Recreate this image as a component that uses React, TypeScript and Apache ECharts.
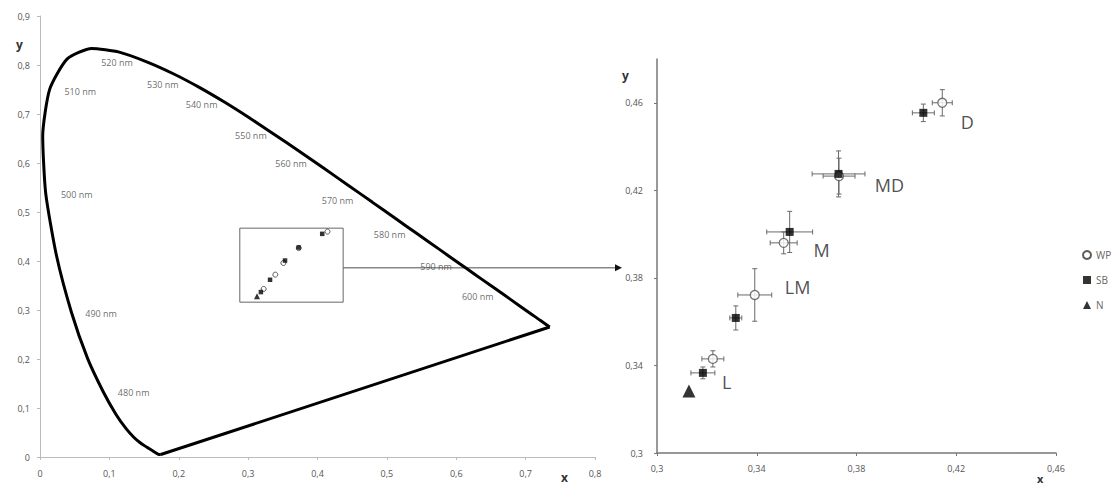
import React, { useEffect, useRef } from "react";
import * as echarts from "echarts";

// CIE 1931 spectral locus (380..700 nm)
const locusX = [0.1741, 0.1733, 0.1714, 0.1689, 0.1644, 0.1611, 0.1566, 0.151, 0.144, 0.1355, 0.1241, 0.1096, 0.0913, 0.0687, 0.0454, 0.0235, 0.0082, 0.0039, 0.0139, 0.0389, 0.0743, 0.1142, 0.1547, 0.1929, 0.2296, 0.2658, 0.3016, 0.3373, 0.3731, 0.4087, 0.4441, 0.4788, 0.5125, 0.5448, 0.5752, 0.6029, 0.627, 0.6482, 0.6658, 0.6915, 0.7079, 0.719, 0.726, 0.73, 0.7334, 0.7347];
const locusY = [0.005, 0.0048, 0.0051, 0.0069, 0.0109, 0.0138, 0.0177, 0.0227, 0.0297, 0.0399, 0.0578, 0.0868, 0.1327, 0.2007, 0.295, 0.4127, 0.5384, 0.6548, 0.7502, 0.812, 0.8338, 0.8262, 0.8059, 0.7816, 0.7543, 0.7243, 0.6923, 0.6589, 0.6245, 0.5896, 0.5547, 0.5202, 0.4866, 0.4544, 0.4242, 0.3965, 0.3725, 0.3514, 0.334, 0.3083, 0.292, 0.2809, 0.274, 0.27, 0.2666, 0.2653];
// purple line: from 700 nm back to 380 nm
const purpleX = [0.7347, 0.1741];
const purpleY = [0.2653, 0.005];

const waveLabels = ["520 nm", "530 nm", "540 nm", "550 nm", "560 nm", "570 nm", "580 nm", "590 nm", "600 nm", "510 nm", "500 nm", "490 nm", "480 nm"];
const waveLabelX = [0.111, 0.177, 0.233, 0.304, 0.362, 0.429, 0.504, 0.571, 0.631, 0.058, 0.053, 0.088, 0.135];
const waveLabelY = [0.806, 0.761, 0.72, 0.657, 0.6, 0.524, 0.455, 0.388, 0.327, 0.745, 0.535, 0.292, 0.131];

const groups = ["D", "MD", "M", "LM", "L"];
const wpX = [0.4144, 0.373, 0.3508, 0.3392, 0.3224];
const wpY = [0.46, 0.4265, 0.396, 0.3722, 0.343];
const wpXErr = [0.004, 0.0064, 0.0054, 0.0068, 0.0044];
const wpYErr = [0.006, 0.0082, 0.005, 0.012, 0.0037];
const sbX = [0.4068, 0.3728, 0.3532, 0.3316, 0.3184];
const sbY = [0.4554, 0.4275, 0.401, 0.3617, 0.3366];
const sbXErr = [0.0044, 0.0106, 0.0092, 0.0024, 0.0048];
const sbYErr = [0.004, 0.0105, 0.0094, 0.0055, 0.0027];
const nX = [0.3128];
const nY = [0.3283];
const groupLabelX = [0.4244, 0.3932, 0.366, 0.3564, 0.328];
const groupLabelY = [0.4513, 0.4225, 0.3928, 0.3759, 0.3325];

const rightTicks = [0.3, 0.34, 0.38, 0.42, 0.46];
const insetX = [0.288, 0.437];
const insetY = [0.316, 0.467];
const arrowYValue = 0.386;

const fmt = (v: number) => String(+Number(v).toFixed(2)).replace(".", ",");
const FONT = "'Open Sans', 'Liberation Sans', sans-serif";

export default function App() {
  const ref = useRef<HTMLDivElement>(null);
  useEffect(() => {
    if (!ref.current) return;
    const chart = echarts.init(ref.current, undefined, { renderer: "svg" });

    const axisCommon = (color: string, width: number) => ({
      splitLine: { show: false },
      axisLine: { show: true, lineStyle: { color, width } },
      axisTick: { show: true, length: 3, lineStyle: { color } },
      axisLabel: { color: "#555", fontSize: 9, fontFamily: FONT, formatter: fmt },
    });

    const errData = (xs: number[], ys: number[], exs: number[], eys: number[]) =>
      xs.map((x, i) => [x, ys[i], exs[i], eys[i]]);

    const renderErr = (params: any, api: any) => {
      const x = api.value(0), y = api.value(1), ex = api.value(2), ey = api.value(3);
      const l = api.coord([x - ex, y]);
      const r = api.coord([x + ex, y]);
      const t = api.coord([x, y + ey]);
      const b = api.coord([x, y - ey]);
      const c = 2.5;
      const style = { stroke: "#6a6a6a", lineWidth: 1 };
      return {
        type: "group",
        children: [
          { type: "line", shape: { x1: l[0], y1: l[1], x2: r[0], y2: r[1] }, style },
          { type: "line", shape: { x1: l[0], y1: l[1] - c, x2: l[0], y2: l[1] + c }, style },
          { type: "line", shape: { x1: r[0], y1: r[1] - c, x2: r[0], y2: r[1] + c }, style },
          { type: "line", shape: { x1: t[0], y1: t[1], x2: b[0], y2: b[1] }, style },
          { type: "line", shape: { x1: t[0] - c, y1: t[1], x2: t[0] + c, y2: t[1] }, style },
          { type: "line", shape: { x1: b[0] - c, y1: b[1], x2: b[0] + c, y2: b[1] }, style },
        ],
      };
    };

    const wpStyle = { color: "#fff", borderColor: "#555", borderWidth: 1.3 };
    const sbStyle = { color: "#000" };
    const nStyle = { color: "#000" };

    const option: any = {
      animation: false,
      backgroundColor: "#fff",
      grid: [
        { left: 40, top: 16, width: 555, height: 441 },
        { left: 657, top: 59, width: 399, height: 394 },
      ],
      xAxis: [
        { gridIndex: 0, type: "value", min: 0, max: 0.8, interval: 0.1, ...axisCommon("#bbb", 1), axisLabel: { color: "#555", fontSize: 9, fontFamily: FONT, formatter: fmt, margin: 12 } },
        {
          gridIndex: 1, type: "value", min: 0.3, max: 0.46, interval: 0.04, ...axisCommon("#777", 1.5),
          axisLabel: { color: "#555", fontSize: 9, fontFamily: FONT, formatter: fmt, margin: 11, customValues: rightTicks },
          axisTick: { show: true, length: 3, lineStyle: { color: "#777" }, customValues: rightTicks },
        },
      ],
      yAxis: [
        { gridIndex: 0, type: "value", min: 0, max: 0.9, interval: 0.1, ...axisCommon("#bbb", 1), axisLabel: { color: "#555", fontSize: 9, fontFamily: FONT, formatter: fmt, margin: 10 } },
        {
          gridIndex: 1, type: "value", min: 0.3, max: 0.48, ...axisCommon("#777", 1.5),
          axisLabel: { color: "#555", fontSize: 9, fontFamily: FONT, formatter: fmt, margin: 14, customValues: rightTicks },
          axisTick: { show: true, length: 3, lineStyle: { color: "#777" }, customValues: rightTicks },
        },
      ],
      legend: {
        orient: "vertical",
        left: 1077,
        top: 245,
        itemGap: 15,
        itemWidth: 8,
        itemHeight: 8,
        textStyle: { color: "#666", fontSize: 10, fontFamily: FONT },
        data: [
          { name: "WP", icon: "circle" },
          { name: "SB", icon: "rect" },
          { name: "N", icon: "triangle" },
        ],
      },
      series: [
        {
          name: "locus", type: "line", xAxisIndex: 0, yAxisIndex: 0, showSymbol: false, smooth: 0.2,
          lineStyle: { color: "#000", width: 3 },
          data: locusX.map((x, i) => [x, locusY[i]]),
          silent: true,
        },
        {
          name: "purple", type: "line", xAxisIndex: 0, yAxisIndex: 0, showSymbol: false,
          lineStyle: { color: "#000", width: 3 },
          data: purpleX.map((x, i) => [x, purpleY[i]]),
          silent: true,
        },
        {
          name: "waveLabels", type: "scatter", xAxisIndex: 0, yAxisIndex: 0, symbolSize: 0, silent: true,
          data: waveLabels.map((t, i) => ({ value: [waveLabelX[i], waveLabelY[i]], name: t })),
          label: { show: true, position: "inside", formatter: "{b}", color: "#444", fontSize: 9, fontFamily: FONT },
        },
        {
          name: "inset", type: "line", xAxisIndex: 0, yAxisIndex: 0, showSymbol: false, silent: true,
          lineStyle: { color: "#666", width: 1 },
          data: [
            [insetX[0], insetY[0]], [insetX[1], insetY[0]], [insetX[1], insetY[1]],
            [insetX[0], insetY[1]], [insetX[0], insetY[0]],
          ],
        },
        {
          name: "WP", type: "scatter", xAxisIndex: 0, yAxisIndex: 0, symbol: "circle", symbolSize: 5,
          itemStyle: { color: "#fff", borderColor: "#333", borderWidth: 1 }, z: 5,
          data: wpX.map((x, i) => [x, wpY[i]]),
        },
        {
          name: "SB", type: "scatter", xAxisIndex: 0, yAxisIndex: 0, symbol: "rect", symbolSize: 4.5,
          itemStyle: sbStyle, z: 5, data: sbX.map((x, i) => [x, sbY[i]]),
        },
        {
          name: "N", type: "scatter", xAxisIndex: 0, yAxisIndex: 0, symbol: "triangle", symbolSize: 6,
          itemStyle: nStyle, z: 5, data: nX.map((x, i) => [x, nY[i]]),
        },
        {
          name: "wpErr", type: "custom", xAxisIndex: 1, yAxisIndex: 1, silent: true, z: 2,
          renderItem: renderErr, encode: { x: 0, y: 1 },
          data: errData(wpX, wpY, wpXErr, wpYErr),
        },
        {
          name: "sbErr", type: "custom", xAxisIndex: 1, yAxisIndex: 1, silent: true, z: 2,
          renderItem: renderErr, encode: { x: 0, y: 1 },
          data: errData(sbX, sbY, sbXErr, sbYErr),
        },
        {
          name: "WP", type: "scatter", xAxisIndex: 1, yAxisIndex: 1, symbol: "circle", symbolSize: 9,
          itemStyle: wpStyle, z: 4, data: wpX.map((x, i) => [x, wpY[i]]),
        },
        {
          name: "SB", type: "scatter", xAxisIndex: 1, yAxisIndex: 1, symbol: "rect", symbolSize: 8,
          itemStyle: sbStyle, z: 5, data: sbX.map((x, i) => [x, sbY[i]]),
        },
        {
          name: "N", type: "scatter", xAxisIndex: 1, yAxisIndex: 1, symbol: "triangle", symbolSize: 13,
          itemStyle: nStyle, z: 5, data: nX.map((x, i) => [x, nY[i]]),
        },
        {
          name: "groupLabels", type: "scatter", xAxisIndex: 1, yAxisIndex: 1, symbolSize: 0, silent: true,
          data: groups.map((g, i) => ({ value: [groupLabelX[i], groupLabelY[i]], name: g })),
          label: { show: true, position: "inside", formatter: "{b}", color: "#222", fontSize: 18, fontFamily: FONT },
        },
      ],
    };
    chart.setOption(option);

    const start = chart.convertToPixel({ gridIndex: 0 }, [insetX[1], arrowYValue]) as number[];
    const rightOrigin = chart.convertToPixel({ gridIndex: 1 }, [0.3, 0.3]) as number[];
    const endX = rightOrigin[0] - 35;
    const ay = start[1];
    const bottomLeft = chart.convertToPixel({ gridIndex: 0 }, [0.8, 0]) as number[];
    const topLeft = chart.convertToPixel({ gridIndex: 0 }, [0, 0.9]) as number[];
    const rightTop = chart.convertToPixel({ gridIndex: 1 }, [0.46, 0.48]) as number[];
    const axisNameStyle = { fill: "#333", fontSize: 12, fontWeight: "bold", fontFamily: FONT };
    chart.setOption({
      graphic: [
        { type: "line", shape: { x1: start[0], y1: ay, x2: endX - 6, y2: ay }, style: { stroke: "#888", lineWidth: 1.5 }, silent: true },
        { type: "polygon", shape: { points: [[endX - 7, ay - 3.5], [endX, ay], [endX - 7, ay + 3.5]] }, style: { fill: "#111" }, silent: true },
        { type: "text", x: topLeft[0] - 24, y: topLeft[1] + 22, style: { text: "y", ...axisNameStyle } },
        { type: "text", x: bottomLeft[0] - 34, y: bottomLeft[1] + 14, style: { text: "x", ...axisNameStyle } },
        { type: "text", x: rightOrigin[0] - 35, y: rightTop[1] + 10, style: { text: "y", ...axisNameStyle } },
        { type: "text", x: rightTop[0] - 19, y: rightOrigin[1] + 20, style: { text: "x", ...axisNameStyle, fontSize: 11 } },
      ],
    });

    return () => chart.dispose();
  }, []);
  return <div ref={ref} style={{ position: "absolute", left: 0, top: 0, width: 1120, height: 488 }} />;
}
